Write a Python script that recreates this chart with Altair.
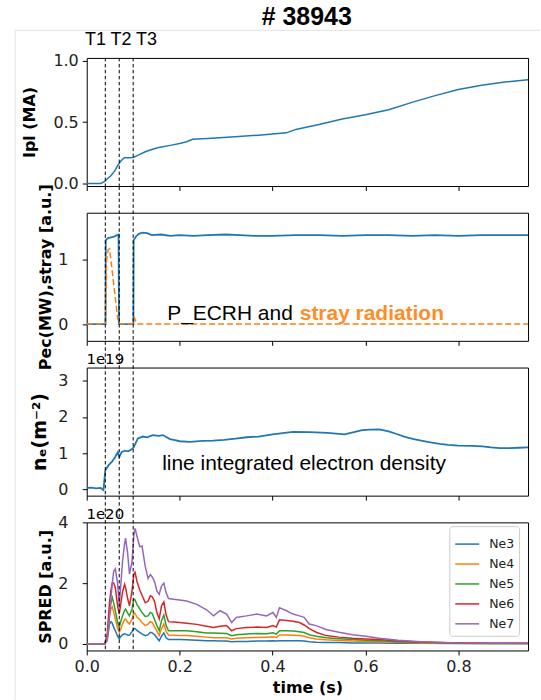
import altair as alt
import pandas as pd

# ---------------- data ----------------
marker_t = [0.04, 0.07, 0.10]

ipl_t = [0.0, 0.030, 0.038, 0.045, 0.052, 0.060, 0.067, 0.074, 0.081, 0.090, 0.100, 0.113, 0.126,
         0.140, 0.155, 0.180, 0.200, 0.215, 0.228, 0.260, 0.320, 0.370, 0.430, 0.450, 0.500, 0.550,
         0.600, 0.650, 0.700, 0.750, 0.800, 0.850, 0.900, 0.950]
ipl_v = [0.0, 0.0, 0.014, 0.040, 0.063, 0.100, 0.149, 0.185, 0.209, 0.209, 0.212, 0.235, 0.258,
         0.276, 0.293, 0.310, 0.325, 0.340, 0.360, 0.366, 0.380, 0.393, 0.412, 0.440, 0.480, 0.525,
         0.560, 0.600, 0.660, 0.715, 0.765, 0.800, 0.825, 0.845]

pec_t = [0.0, 0.0405, 0.041, 0.045, 0.050, 0.055, 0.060, 0.065, 0.0685, 0.0695, 0.1005, 0.101, 0.106,
         0.112, 0.120, 0.130, 0.140, 0.160, 0.180, 0.200, 0.230, 0.260, 0.300, 0.330, 0.360, 0.400,
         0.450, 0.500, 0.550, 0.600, 0.650, 0.700, 0.750, 0.800, 0.850, 0.900, 0.950]
pec_v = [0.0, 0.0, 1.30, 1.33, 1.34, 1.35, 1.36, 1.38, 1.39, 0.0, 0.0, 1.30, 1.36,
         1.40, 1.42, 1.41, 1.38, 1.39, 1.37, 1.38, 1.37, 1.38, 1.39, 1.38, 1.37, 1.37,
         1.38, 1.38, 1.37, 1.38, 1.38, 1.37, 1.38, 1.37, 1.38, 1.38, 1.38]

stray_t = [0.0, 0.0405, 0.043, 0.046, 0.049, 0.052, 0.056, 0.060, 0.0635, 0.0665, 0.070, 0.1005,
           0.103, 0.107, 0.110, 0.950]
stray_v = [0.0, 0.0, 1.00, 1.15, 1.17, 1.00, 0.75, 0.50, 0.28, 0.10, 0.0, 0.0,
           0.09, 0.02, 0.0, 0.0]

ne_t = [0.0, 0.010, 0.020, 0.030, 0.036, 0.040, 0.047, 0.054, 0.061, 0.067, 0.070, 0.075, 0.082,
        0.089, 0.096, 0.101, 0.110, 0.121, 0.130, 0.142, 0.155, 0.164, 0.179, 0.190, 0.200, 0.222,
        0.250, 0.272, 0.296, 0.320, 0.345, 0.370, 0.400, 0.444, 0.480, 0.518, 0.555, 0.575, 0.593,
        0.610, 0.630, 0.650, 0.667, 0.685, 0.704, 0.720, 0.740, 0.760, 0.778, 0.800, 0.830, 0.852,
        0.870, 0.889, 0.910, 0.930, 0.950]
ne_v = [0.04, 0.05, 0.03, 0.04, -0.02, 0.53, 0.67, 0.76, 0.89, 1.03, 0.89, 1.03, 1.07,
        1.05, 1.10, 1.16, 1.41, 1.46, 1.44, 1.50, 1.48, 1.50, 1.39, 1.36, 1.33, 1.31,
        1.34, 1.35, 1.37, 1.40, 1.44, 1.46, 1.52, 1.59, 1.58, 1.56, 1.52, 1.58, 1.64,
        1.65, 1.66, 1.60, 1.53, 1.45, 1.39, 1.35, 1.30, 1.26, 1.23, 1.21, 1.20, 1.19,
        1.16, 1.14, 1.14, 1.15, 1.16]

spred_t = [0.0, 0.039, 0.044, 0.049, 0.052, 0.055, 0.058, 0.0615, 0.0665, 0.070, 0.0736, 0.077,
           0.0815, 0.0836, 0.088, 0.092, 0.0975, 0.1015, 0.104, 0.108, 0.114, 0.119, 0.126, 0.132,
           0.137, 0.141, 0.146, 0.151, 0.156, 0.161, 0.166, 0.171, 0.176, 0.187, 0.200, 0.215,
           0.237, 0.258, 0.273, 0.287, 0.301, 0.312, 0.322, 0.344, 0.366, 0.387, 0.401, 0.408,
           0.415, 0.430, 0.444, 0.458, 0.468, 0.479, 0.494, 0.515, 0.543, 0.572, 0.601, 0.630,
           0.670, 0.720, 0.800, 0.880, 0.950]
ne3 = [0, 0, 0.10, 0.65, 0.73, 0.68, 0.55, 0.43, 0.25, 0.16, 0.25, 0.30,
       0.33, 0.32, 0.29, 0.28, 0.40, 0.51, 0.50, 0.44, 0.38, 0.33, 0.27, 0.30,
       0.38, 0.36, 0.30, 0.20, 0.10, 0.25, 0.36, 0.20, 0.14, 0.14, 0.14, 0.13,
       0.12, 0.10, 0.10, 0.09, 0.09, 0.07, 0.08, 0.08, 0.09, 0.09, 0.10, 0.09,
       0.10, 0.10, 0.10, 0.10, 0.09, 0.07, 0.05, 0.04, 0.04, 0.03, 0.03, 0.03,
       0.02, 0.02, 0.01, 0.01, 0.01]
ne4 = [0, 0, 0.15, 0.92, 1.15, 1.22, 1.05, 0.82, 0.50, 0.38, 0.50, 0.65,
       0.80, 0.82, 0.72, 0.65, 0.80, 1.03, 1.00, 0.88, 0.80, 0.70, 0.60, 0.65,
       0.73, 0.70, 0.56, 0.42, 0.27, 0.50, 0.65, 0.40, 0.29, 0.28, 0.27, 0.27,
       0.25, 0.22, 0.20, 0.20, 0.20, 0.16, 0.18, 0.20, 0.21, 0.22, 0.23, 0.21,
       0.29, 0.29, 0.28, 0.27, 0.25, 0.20, 0.16, 0.13, 0.11, 0.09, 0.08, 0.07,
       0.05, 0.03, 0.02, 0.01, 0.01]
ne5 = [0, 0, 0.20, 1.03, 1.35, 1.52, 1.35, 1.09, 0.70, 0.54, 0.75, 0.92,
       1.10, 1.14, 1.02, 0.92, 1.15, 1.47, 1.45, 1.30, 1.15, 1.03, 0.90, 0.92,
       1.03, 1.00, 0.80, 0.60, 0.43, 0.76, 0.95, 0.60, 0.43, 0.43, 0.43, 0.43,
       0.40, 0.36, 0.36, 0.35, 0.34, 0.27, 0.30, 0.32, 0.34, 0.33, 0.36, 0.32,
       0.43, 0.43, 0.42, 0.40, 0.37, 0.30, 0.25, 0.20, 0.17, 0.14, 0.12, 0.10,
       0.07, 0.05, 0.02, 0.01, 0.01]
ne6 = [0, 0, 0.30, 1.36, 1.75, 2.00, 2.00, 1.85, 1.25, 0.98, 1.35, 1.70,
       1.96, 1.85, 1.50, 1.25, 1.74, 2.30, 2.36, 2.06, 1.78, 1.60, 1.35, 1.40,
       1.58, 1.55, 1.40, 1.03, 0.82, 1.25, 1.38, 0.95, 0.73, 0.72, 0.70, 0.68,
       0.64, 0.58, 0.54, 0.58, 0.60, 0.43, 0.50, 0.54, 0.55, 0.54, 0.60, 0.55,
       0.79, 0.77, 0.74, 0.70, 0.62, 0.50, 0.38, 0.27, 0.22, 0.18, 0.16, 0.14,
       0.09, 0.06, 0.03, 0.02, 0.02]
ne7 = [0, 0, 0.15, 0.90, 1.47, 2.00, 2.39, 2.47, 2.00, 1.25, 2.00, 2.70,
       3.30, 3.48, 2.99, 2.30, 2.70, 3.60, 3.80, 3.55, 3.20, 3.22, 2.55, 2.15,
       2.28, 2.20, 2.05, 1.74, 1.63, 1.90, 2.00, 1.68, 1.49, 1.47, 1.44, 1.41,
       1.30, 1.12, 0.92, 1.09, 0.98, 0.70, 0.87, 0.92, 0.98, 0.92, 1.03, 0.87,
       1.19, 1.09, 0.98, 0.92, 0.87, 0.65, 0.60, 0.47, 0.38, 0.30, 0.25, 0.18,
       0.12, 0.07, 0.03, 0.02, 0.01]
spred_names = ["Ne3", "Ne4", "Ne5", "Ne6", "Ne7"]
spred_colors = ["#1f77b4", "#ff7f0e", "#2ca02c", "#d62728", "#9467bd"]

# ---------------- layout ----------------
W, H, GAP = 442.7, 128.5, 26.3
XT = [0, 0.2, 0.4, 0.6, 0.8]
xs = alt.Scale(domain=[0, 0.95], nice=False, zero=False)
FONT = "DejaVu Sans"
SANS = "Liberation Sans"

one = pd.DataFrame({"k": [0]})
markers = pd.DataFrame({"t": marker_t})


def xenc(bottom=False):
    if bottom:
        ax = alt.Axis(values=XT, format=".1f", title="time (s)", titleY=42,
                      titleBaseline="alphabetic", titleFont=FONT, titleFontWeight="bold",
                      titleFontSize=16, titleColor="black")
    else:
        ax = alt.Axis(values=XT, labels=False, title=None)
    return alt.X("t:Q", scale=xs, axis=ax)


def yaxis(title, values, fmt, tx, pad, size=16):
    return alt.Axis(title=title, values=values, format=fmt, titleX=tx, titleY=H / 2,
                    titleAngle=270, titleAlign="center", titleBaseline="middle",
                    titleFont=FONT, titleFontWeight="bold", titleFontSize=size,
                    titleColor="black", labelPadding=pad)


def vlines(top):
    return alt.Chart(markers).mark_rule(color="black", strokeWidth=1, strokeDash=[3.5, 2.5]).encode(
        x=alt.X("t:Q", scale=xs), y=alt.value(top), y2=alt.value(H))


def label(text, x, y, size, font=SANS, weight="normal", color="black", align="left"):
    return alt.Chart(one).mark_text(text=text, font=font, fontSize=size, fontWeight=weight,
                                    color=color, align=align, baseline="alphabetic").encode(
        x=alt.value(x), y=alt.value(y))


# panel 1
d1 = pd.DataFrame({"t": ipl_t, "v": ipl_v})
anchor = alt.Chart(one).mark_rule(opacity=0, strokeWidth=0).encode(
    x=alt.value(-86.3), x2=alt.value(0), y=alt.value(-56))
frame_v = alt.Chart(one).mark_rule(color="#e2e2e2", strokeWidth=1).encode(
    x=alt.value(-71.8), y=alt.value(-27.7), y2=alt.value(644))
frame_h = alt.Chart(one).mark_rule(color="#e2e2e2", strokeWidth=1).encode(
    x=alt.value(-71.8), x2=alt.value(454.7), y=alt.value(-27.7))
p1 = alt.layer(
    anchor, frame_v, frame_h,
    alt.Chart(d1).mark_line(color="#1f77b4", strokeWidth=1.5).encode(
        x=xenc(),
        y=alt.Y("v:Q", scale=alt.Scale(domain=[-0.021, 1.022], nice=False, zero=False),
                axis=yaxis("Ipl (MA)", [0, 0.5, 1.0], ".1f", -57, 4))),
    vlines(0),
    label("# 38943", 220.7, -33.3, 25, weight="bold", align="center"),
    label("T1 T2 T3", -1.8, -12.7, 18),
).properties(width=W, height=H)

# panel 2
d2a = pd.DataFrame({"t": pec_t, "v": pec_v})
d2b = pd.DataFrame({"t": stray_t, "v": stray_v})
y2s = alt.Scale(domain=[-0.26, 1.728], nice=False, zero=False)
p2 = alt.layer(
    alt.Chart(d2a).mark_line(color="#1f77b4", strokeWidth=1.8).encode(
        x=xenc(),
        y=alt.Y("v:Q", scale=y2s, axis=yaxis("Pec(MW),stray [a.u.]", [0, 1], "d", -41.3, 14.5))),
    alt.Chart(d2b).mark_line(color="#ff7f0e", strokeWidth=1.5, strokeDash=[6, 3]).encode(
        x=alt.X("t:Q", scale=xs), y=alt.Y("v:Q", scale=y2s)),
    vlines(-GAP),
    label("P_ECRH and", 80.7, 107.5, 21),
    label("stray radiation", 213.7, 107.5, 21, weight="bold", color="#ff8c2a"),
).properties(width=W, height=H)

# panel 3
d3 = pd.DataFrame({"t": ne_t, "v": ne_v})
p3 = alt.layer(
    alt.Chart(d3).mark_line(color="#1f77b4", strokeWidth=1.8).encode(
        x=xenc(),
        y=alt.Y("v:Q", scale=alt.Scale(domain=[-0.172, 3.365], nice=False, zero=False),
                axis=yaxis("nₑ(m⁻²)", [0, 1, 2, 3], "d", -47.8, 14.5, size=19))),
    vlines(-GAP),
    label("1e19", -0.3, -3.9, 15, font=FONT),
    label("line integrated electron density", 75.7, 102.7, 21),
).properties(width=W, height=H)

# panel 4
rows = []
for name, vals in zip(spred_names, [ne3, ne4, ne5, ne6, ne7]):
    for t, v in zip(spred_t, vals):
        rows.append({"t": t, "v": v, "s": name})
d4 = pd.DataFrame(rows)
p4 = alt.layer(
    alt.Chart(d4).mark_line(strokeWidth=1.5).encode(
        x=xenc(bottom=True),
        y=alt.Y("v:Q", scale=alt.Scale(domain=[-0.219, 4.0], nice=False, zero=False),
                axis=yaxis("SPRED [a.u.]", [0, 2, 4], "d", -41.3, 14.5)),
        color=alt.Color("s:N", scale=alt.Scale(domain=spred_names, range=spred_colors),
                        legend=alt.Legend(title=None, orient="none", legendX=363.7,
                                          legendY=3 * (H + GAP) + 5.3,
                                          symbolType="stroke", symbolSize=576, symbolStrokeWidth=1.5,
                                          labelFont=FONT, labelFontSize=12.5, labelColor="#222",
                                          labelOffset=9, padding=5, rowPadding=-4.8,
                                          strokeColor="#cccccc", fillColor="white",
                                          cornerRadius=3)),
        detail="s:N"),
    vlines(-GAP),
    label("1e20", -0.3, -3.7, 15, font=FONT),
).properties(width=W, height=H)

chart = alt.vconcat(p1, p2, p3, p4, spacing=GAP, bounds="flush").properties(
    padding=0, background="white"
).configure_view(stroke="black", strokeWidth=1).configure_axis(
    grid=False, domain=False, tickColor="black", tickSize=4.5, tickWidth=1,
    labelFont=FONT, labelFontSize=16, labelColor="#222", labelPadding=4, labelFlush=False
)

chart.save("out.html", embed_options={"renderer": "svg", "actions": False})
